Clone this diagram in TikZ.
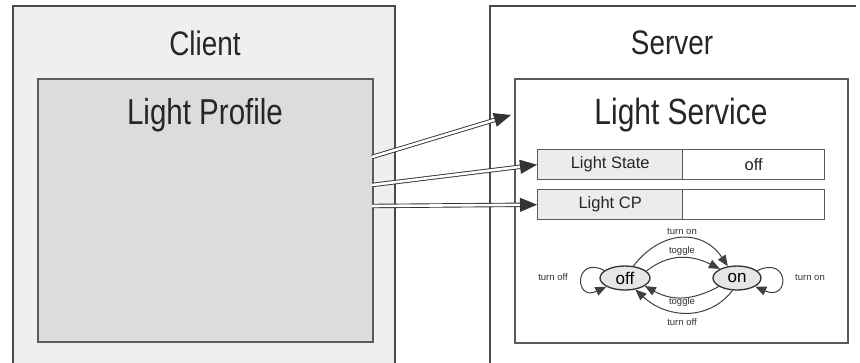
\documentclass[tikz,border=0pt]{standalone}
\usepackage{fontspec}
\setmainfont{Liberation Sans}
\newfontfamily\narrowsans[FakeStretch=0.82]{Liberation Sans}
\usetikzlibrary{arrows.meta,shapes.geometric}
\definecolor{framegray}{HTML}{4A4A4A}
\definecolor{boxgray}{HTML}{5A5A5A}
\definecolor{clientfill}{HTML}{EFEFEF}
\definecolor{profilefill}{HTML}{DCDCDE}
\definecolor{cellfill}{HTML}{ECECEC}
\definecolor{statefill}{HTML}{E6E6E6}
\tikzset{
  frame/.style={draw=framegray, line width=1.6pt},
  panel/.style={draw=boxgray, line width=1.8pt, rectangle, anchor=north west, inner sep=0pt},
  title/.style={font=\narrowsans\fontsize{34}{36}\selectfont, text=black!85},
  subtitle/.style={font=\narrowsans\fontsize{36}{38}\selectfont, text=black!85},
  cell/.style={draw=boxgray, line width=1.4pt, rectangle, anchor=north west, inner sep=0pt,
    minimum height=30pt, font=\fontsize{16.5}{18}\selectfont, text=black!85},
  bigarrow/.style={draw=black!80, line width=0.9pt, double=white, double distance=2.6pt,
    -{Triangle[length=17pt,width=14pt]}},
  statenode/.style={ellipse, draw=black!80, line width=1.3pt, fill=statefill, inner sep=0pt,
    minimum width=50pt, minimum height=24pt, font=\fontsize{17}{18}\selectfont},
  trans/.style={draw=black!75, line width=1pt, -{Triangle[length=11pt,width=9pt]}},
  tlabel/.style={font=\fontsize{9.5}{10}\selectfont, text=black!80, inner sep=0pt}
}
\begin{document}
\begin{tikzpicture}[x=1pt,y=-1pt]
\useasboundingbox (0,0) rectangle (860,362);
\clip (0,0) rectangle (860,362);
\fill[white] (0,0) rectangle (860,362);

% client side
\draw[frame, fill=clientfill] (13,380) -- (13,6) -- (395,6) -- (395,380);
\node[title] (client) at (205,43) {Client};
\node[panel, fill=profilefill, minimum width=335pt, minimum height=263pt] (profile) at (37,78) {};
\node[subtitle] (profiletitle) at (205,115) {Light Profile};

% server side
\draw[frame] (490,380) -- (490,6) -- (856,6);
\node[title] (server) at (672,43) {Server};
\node[panel, fill=white, minimum width=333pt, minimum height=264pt] (service) at (514,78) {};
\node[subtitle, font=\narrowsans\fontsize{36.5}{38}\selectfont] (servicetitle) at (681,115) {Light Service};

% characteristic rows
\node[cell, fill=cellfill, minimum width=145pt] (state) at (537,149) {Light State};
\node[cell, fill=white, minimum width=142pt] (stateval) at (682,149) {off};
\node[cell, fill=cellfill, minimum width=145pt] (cp) at (537,189) {Light CP};
\node[cell, fill=white, minimum width=142pt] (cpval) at (682,189) {};

% requests from the profile
\coordinate (a1) at (372,157);
\coordinate (a2) at (372,185);
\coordinate (a3) at (372,206);
\coordinate (t1) at (511,115);
\draw[bigarrow] (a1) -- (t1);
\draw[bigarrow] (a2) -- (state.west);
\draw[bigarrow] (a3) -- (cp.west);

% state machine
\node[statenode] (off) at (625,278) {off};
\node[statenode, minimum width=48pt] (on) at (737,278) {on};

\draw[trans] (off.55) .. controls (662,229) and (703,229) .. (on.128);
\draw[trans] (off.18) .. controls (668,254) and (690,254) .. (on.152);
\draw[trans] (on.205) .. controls (692,301) and (672,301) .. (off.-22);
\draw[trans] (on.-110) .. controls (708,322) and (666,318) .. (off.-48);
\draw[trans] (off.160) .. controls (574,255) and (574,302) .. (off.205);
\draw[trans] (on.20) .. controls (790,255) and (790,302) .. (on.-25);

\node[tlabel] (lturnon) at (682,231) {turn on};
\node[tlabel] (ltoggle1) at (682,251) {toggle};
\node[tlabel] (ltoggle2) at (682,302) {toggle};
\node[tlabel] (lturnoff) at (682,322) {turn off};
\node[tlabel] (lselfoff) at (553,277) {turn off};
\node[tlabel] (lselfon) at (810,277) {turn on};
\end{tikzpicture}
\end{document}
